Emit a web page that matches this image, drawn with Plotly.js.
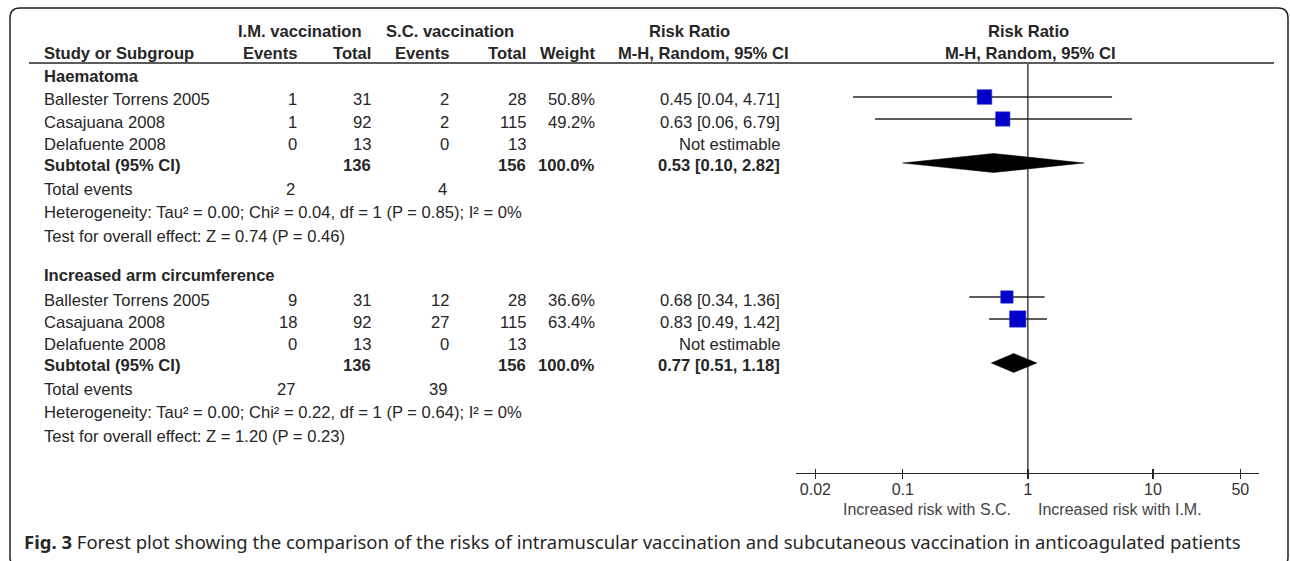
<!DOCTYPE html>
<html><head><meta charset="utf-8">
<script src="https://cdn.plot.ly/plotly-3.0.1.min.js"></script>
<style>html,body{margin:0;padding:0;background:#fff}</style>
</head><body><div id="chart" style="width:1290px;height:561px"></div>
<script>
// ---------- data ----------
const subgroups = ["Haematoma", "Increased arm circumference"];
const studies = ["Ballester Torrens 2005", "Casajuana 2008", "Delafuente 2008"];
const imEvents = [[1, 1, 0], [9, 18, 0]];
const imTotal = [[31, 92, 13], [31, 92, 13]];
const scEvents = [[2, 2, 0], [12, 27, 0]];
const scTotal = [[28, 115, 13], [28, 115, 13]];
const weights = [[50.8, 49.2, null], [36.6, 63.4, null]];
const rr = [[0.45, 0.63, null], [0.68, 0.83, null]];
const rrLow = [[0.04, 0.06, null], [0.34, 0.49, null]];
const rrHigh = [[4.71, 6.79, null], [1.36, 1.42, null]];
const subRR = [0.53, 0.77];
const subLow = [0.10, 0.51];
const subHigh = [2.82, 1.18];
const subImTotal = [136, 136];
const subScTotal = [156, 156];
const totImEvents = [2, 27];
const totScEvents = [4, 39];
const heterogeneity = [
  "Heterogeneity: Tau\u00b2 = 0.00; Chi\u00b2 = 0.04, df = 1 (P = 0.85); I\u00b2 = 0%",
  "Heterogeneity: Tau\u00b2 = 0.00; Chi\u00b2 = 0.22, df = 1 (P = 0.64); I\u00b2 = 0%"
];
const overallEffect = [
  "Test for overall effect: Z = 0.74 (P = 0.46)",
  "Test for overall effect: Z = 1.20 (P = 0.23)"
];
const tickVals = [0.02, 0.1, 1, 10, 50];
const tickLabels = ["0.02", "0.1", "1", "10", "50"];
const favoursLeft = "Increased risk with S.C.";
const favoursRight = "Increased risk with I.M.";
const caption = "<b>Fig. 3</b> Forest plot showing the comparison of the risks of intramuscular vaccination and subcutaneous vaccination in anticoagulated patients";

// ---------- layout helpers ----------
const W = 1290, H = 561;
const px = x => x / W;
const py = y => 1 - y / H;
const FONT = "Liberation Sans, Arial, sans-serif";
const TXT = "#262626";
const FS = 16.6;
const annotations = [];
function ann(text, x, y, align, bold, opts) {
  opts = opts || {};
  annotations.push({
    text: bold ? "<b>" + text + "</b>" : text,
    x: px(x), y: py(y), xref: "paper", yref: "paper",
    xanchor: align, yanchor: "middle", showarrow: false,
    font: {family: opts.family || FONT, size: opts.size || FS, color: opts.color || TXT}
  });
}
const fmt2 = v => v.toFixed(2);
const rrText = (e, l, h) => e == null ? "Not estimable" : fmt2(e) + " [" + fmt2(l) + ", " + fmt2(h) + "]";

// column right edges
const C = {study: 42, imE: 299, imT: 373, scE: 451, scT: 528, wt: 597, rr: 782};

// headers
ann("I.M. vaccination", 300, 32, "center", true);
ann("S.C. vaccination", 450, 32, "center", true);
ann("Risk Ratio", 690, 32, "center", true);
ann("Risk Ratio", 1028, 32, "center", true);
ann("Study or Subgroup", C.study, 54, "left", true);
ann("Events", C.imE, 54, "right", true);
ann("Total", C.imT, 54, "right", true);
ann("Events", C.scE, 54, "right", true);
ann("Total", C.scT, 54, "right", true);
ann("Weight", C.wt, 54, "right", true);
ann("M-H, Random, 95% CI", 703, 54, "center", true);
ann("M-H, Random, 95% CI", 1030, 54, "center", true);

const headY = [76, 275];
const firstY = [100, 300];
const STEP = 22;
const traces = [];

subgroups.forEach((sg, g) => {
  ann(sg, C.study, headY[g], "left", true);
  const mx = [], my = [], ms = [], ep = [], em = [];
  studies.forEach((st, i) => {
    const y = firstY[g] + i * STEP;
    ann(st, C.study, y, "left", false);
    ann(String(imEvents[g][i]), C.imE, y, "right", false);
    ann(String(imTotal[g][i]), C.imT, y, "right", false);
    ann(String(scEvents[g][i]), C.scE, y, "right", false);
    ann(String(scTotal[g][i]), C.scT, y, "right", false);
    if (weights[g][i] != null) ann(weights[g][i].toFixed(1) + "%", C.wt, y, "right", false);
    ann(rrText(rr[g][i], rrLow[g][i], rrHigh[g][i]), C.rr, y, "right", false);
    if (rr[g][i] != null) {
      mx.push(rr[g][i]); my.push(y - 3);
      ms.push(2.05 * Math.sqrt(weights[g][i]));
      ep.push(rrHigh[g][i] - rr[g][i]); em.push(rr[g][i] - rrLow[g][i]);
    }
  });
  const sy = firstY[g] + 65;
  ann("Subtotal (95% CI)", C.study, sy, "left", true);
  ann(String(subImTotal[g]), C.imT, sy, "right", true);
  ann(String(subScTotal[g]), C.scT, sy, "right", true);
  ann("100.0%", C.wt, sy, "right", true);
  ann(rrText(subRR[g], subLow[g], subHigh[g]), C.rr, sy, "right", true);
  const ty = firstY[g] + 89;
  ann("Total events", C.study, ty, "left", false);
  ann(String(totImEvents[g]), C.imE - 2, ty, "right", false);
  ann(String(totScEvents[g]), C.scE - 2, ty, "right", false);
  ann(heterogeneity[g], C.study, firstY[g] + 112, "left", false);
  ann(overallEffect[g], C.study, firstY[g] + 136, "left", false);

  traces.push({
    type: "scatter", mode: "markers", x: mx, y: my, xaxis: "x", yaxis: "y",
    marker: {symbol: "square", size: ms, color: "#0000c8", opacity: 1, line: {width: 0.6, color: "#3333dd"}},
    error_x: {type: "data", symmetric: false, array: ep, arrayminus: em,
              color: "#262626", thickness: 1.3, width: 0},
    opacity: 1,
    hoverinfo: "skip", showlegend: false, cliponaxis: false
  });
  const dy = firstY[g] - 3 + 3 * STEP;
  const hh = 9.5;
  traces.push({
    type: "scatter", mode: "lines", fill: "toself", fillcolor: "#000",
    x: [subLow[g], subRR[g], subHigh[g], subRR[g], subLow[g]],
    y: [dy, dy - hh, dy, dy + hh, dy],
    line: {color: "#000", width: 0.5}, hoverinfo: "skip", showlegend: false
  });
});

// line of no effect
traces.unshift({
  type: "scatter", mode: "lines", x: [1, 1], y: [473, 64],
  line: {color: "#262626", width: 1.3}, hoverinfo: "skip", showlegend: false
});
// helper trace for the inside-tick axis
traces.push({type: "scatter", x: [], y: [], xaxis: "x2", yaxis: "y", showlegend: false});

ann(favoursLeft, 1013, 509, "right", false, {size: 16, color: "#444"});
ann(favoursRight, 1036, 509, "left", false, {size: 16, color: "#444"});
ann(caption, 22, 541, "left", false, {family: "Noto Sans, Open Sans, sans-serif", size: 18.5, color: "#262626"});

// frame with rounded corners
const L = 10, T = 8, R = 1288, B = 567, r = 10;
const P = (x, y) => px(x) + "," + py(y);
const framePath = "M" + P(L + r, T) + " L" + P(R - r, T) + " Q" + P(R, T) + " " + P(R, T + r) +
  " L" + P(R, B - r) + " Q" + P(R, B) + " " + P(R - r, B) + " L" + P(L + r, B) +
  " Q" + P(L, B) + " " + P(L, B - r) + " L" + P(L, T + r) + " Q" + P(L, T) + " " + P(L + r, T) + " Z";

const xr = [Math.log10(0.02) - 0.155, Math.log10(50) + 0.149];
const xDom = [px(796), px(1259)];
const layout = {
  width: W, height: H, margin: {l: 0, r: 0, t: 0, b: 0},
  paper_bgcolor: "#fff", plot_bgcolor: "rgba(0,0,0,0)",
  showlegend: false,
  xaxis: {
    type: "log", range: xr, domain: xDom, anchor: "y",
    tickvals: tickVals, ticktext: tickLabels, ticks: "outside", ticklen: 5,
    tickwidth: 1.3, tickcolor: "#262626", ticklabelstandoff: -4,
    showline: true, linecolor: "#262626", linewidth: 1.3,
    showgrid: false, zeroline: false,
    tickfont: {family: FONT, size: 16, color: "#333"}
  },
  xaxis2: {
    type: "log", range: xr, domain: xDom, anchor: "y", overlaying: "x",
    tickvals: tickVals, ticks: "inside", ticklen: 4, tickwidth: 1.3,
    tickcolor: "#262626", showticklabels: false, showline: false,
    showgrid: false, zeroline: false
  },
  yaxis: {
    range: [473, 64], domain: [py(473), py(64)], visible: false,
    showgrid: false, zeroline: false
  },
  shapes: [
    {type: "line", xref: "paper", yref: "paper", x0: px(29), x1: px(1274), y0: py(63), y1: py(63),
     line: {color: "#262626", width: 1.5}},
    {type: "path", xref: "paper", yref: "paper", path: framePath,
     line: {color: "#222", width: 1.5}, fillcolor: "rgba(0,0,0,0)"}
  ],
  annotations: annotations
};
Plotly.newPlot("chart", traces, layout, {displayModeBar: false, staticPlot: true});
</script>
</body></html>
